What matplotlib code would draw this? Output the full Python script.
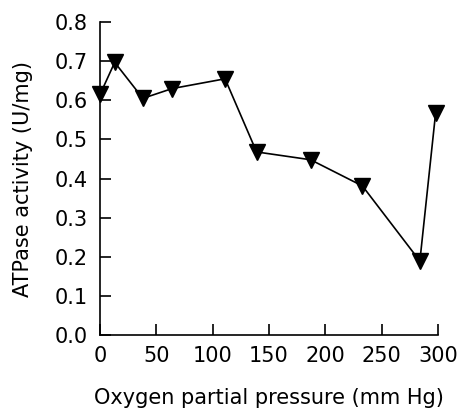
import matplotlib
matplotlib.use("Agg")
import matplotlib.pyplot as plt

# oxygen partial pressure (mm Hg) and ATPase activity (U/mg)
pressure = [0, 13, 38, 64, 111, 139, 187, 233, 284, 298]
activity = [0.615, 0.697, 0.605, 0.630, 0.655, 0.468, 0.448, 0.381, 0.189, 0.568]

x_ticks = [0, 50, 100, 150, 200, 250, 300]
y_ticks = [0.0, 0.1, 0.2, 0.3, 0.4, 0.5, 0.6, 0.7, 0.8]

fig = plt.figure(figsize=(4.59, 4.09), dpi=100)
ax = fig.add_axes([0.218, 0.181, 0.736, 0.765])

ax.plot(pressure, activity, color="black", linewidth=1.2,
        marker="v", markersize=11, clip_on=False, zorder=3)

ax.set_xlim(0, 300)
ax.set_ylim(0, 0.8)
ax.set_xticks(x_ticks)
ax.set_yticks(y_ticks)
ax.set_yticklabels([f"{v:.1f}" for v in y_ticks])
ax.spines["top"].set_visible(False)
ax.spines["right"].set_visible(False)
for s in ("left", "bottom"):
    ax.spines[s].set_linewidth(1.2)
ax.tick_params(direction="in", length=8, width=1.2, labelsize=15)
ax.tick_params(axis="y", pad=9)
ax.tick_params(axis="x", pad=8)

ax.set_xlabel("Oxygen partial pressure (mm Hg)", fontsize=15, labelpad=16)
ax.set_ylabel("ATPase activity (U/mg)", fontsize=15, labelpad=15)

fig.savefig("out.png", dpi=100)
